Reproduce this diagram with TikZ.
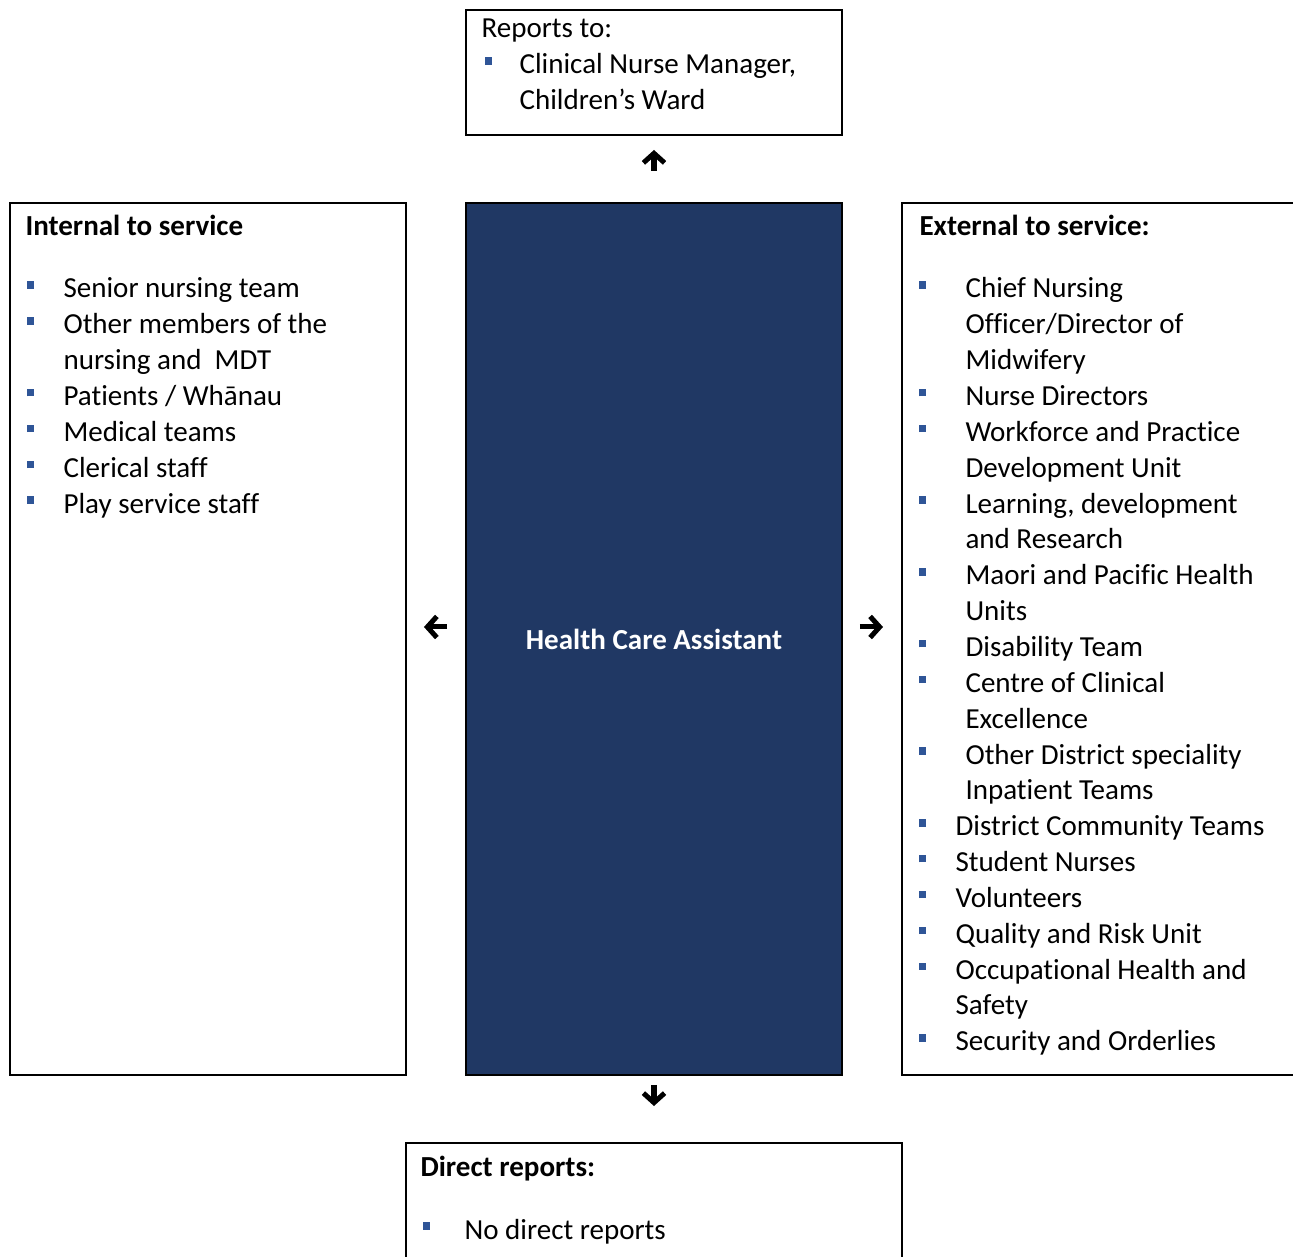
\documentclass[tikz,border=0pt]{standalone}
\usepackage{fontspec}
\setmainfont[Ligatures=NoCommon]{Carlito}
\usetikzlibrary{arrows.meta}

\definecolor{hcablue}{RGB}{32,56,100}
\definecolor{bulletblue}{RGB}{47,85,151}
\newlength{\pxl}
\setlength{\pxl}{0.3788pt}
\newcommand{\sq}{\textcolor{bulletblue}{\rule[3.5pt]{2.8pt}{2.8pt}}}
\newcommand{\bitem}[1]{\makebox[#1\pxl][l]{\sq}}
\newcommand{\bskip}[1]{\hspace*{#1\pxl}}

\begin{document}
\begin{tikzpicture}[
		x=0.3788pt, y=-0.3788pt,
		every node/.style={font=\fontsize{11}{13.58}\selectfont},
		box/.style={
			draw,
			line width=0.75pt,
			anchor=north west,
			inner sep=0pt
		},
		role/.style={
			box,
			fill=hcablue,
			text=white,
			font=\fontsize{11}{13.58}\selectfont\bfseries
		},
		txt/.style={anchor=base west, inner sep=0pt},
		head/.style={txt, font=\fontsize{11}{13.58}\selectfont\bfseries},
		warrow/.style={
			-{Straight Barb[length=3.6pt,width=8pt]},
			line width=1.9pt
		}
		]
		\useasboundingbox (0,0) rectangle (1293,1257);
		
		% Boxes
		\node[box, minimum width=376*\pxl, minimum height=125*\pxl] (reports) at (465,9) {};
		\node[role, minimum width=376*\pxl, minimum height=872*\pxl] (hca) at (465,202) {Health Care Assistant};
		\node[box, minimum width=396*\pxl, minimum height=872*\pxl] (internal) at (9,202) {};
		\node[box, minimum width=420*\pxl, minimum height=872*\pxl] (external) at (901,202) {};
		\node[box, minimum width=496*\pxl, minimum height=130*\pxl] (direct) at (405,1142) {};
		
		% Texts
		\node[txt] (reportsList) at (481,38) {\begin{tabular}[t]{@{}l@{}}
				Reports to:\\
				\bskip{3}\bitem{35}Clinical Nurse Manager,\\
				\bskip{38}Children’s Ward
			\end{tabular}};
		
		\node[head] (internalHead) at (25,236) {Internal to service};
		\node[txt] (internalList) at (26,298) {\begin{tabular}[t]{@{}l@{}}
				\bitem{37}Senior nursing team\\
				\bitem{37}Other members of the\\
				\bskip{37}nursing and\ \ MDT\\
				\bitem{37}Patients / Whānau\\
				\bitem{37}Medical teams\\
				\bitem{37}Clerical staff\\
				\bitem{37}Play service staff
			\end{tabular}};
		
		\node[head] (externalHead) at (919,236) {External to service:};
		\node[txt] (externalList) at (918,298) {\begin{tabular}[t]{@{}l@{}}
				\bitem{47}Chief Nursing\\
				\bskip{47}Officer/Director of\\
				\bskip{47}Midwifery\\
				\bitem{47}Nurse Directors\\
				\bitem{47}Workforce and Practice\\
				\bskip{47}Development Unit\\
				\bitem{47}Learning, development\\
				\bskip{47}and Research\\
				\bitem{47}Maori and Pacific Health\\
				\bskip{47}Units\\
				\bitem{47}Disability Team\\
				\bitem{47}Centre of Clinical\\
				\bskip{47}Excellence\\
				\bitem{47}Other District speciality\\
				\bskip{47}Inpatient Teams\\
				\bitem{37}District Community Teams\\
				\bitem{37}Student Nurses\\
				\bitem{37}Volunteers\\
				\bitem{37}Quality and Risk Unit\\
				\bitem{37}Occupational Health and\\
				\bskip{37}Safety\\
				\bitem{37}Security and Orderlies
			\end{tabular}};
		
		\node[head] (directHead) at (420,1176) {Direct reports:};
		\node[txt] (directList) at (422,1239) {\bitem{42}No direct reports};
		
		% Arrows
		\draw[warrow, shorten <=31*\pxl, shorten >=14*\pxl] (hca.north) -- (reports.south);
		\draw[warrow, shorten <=18*\pxl, shorten >=17*\pxl]
		([yshift=12*\pxl]hca.west) -- ([yshift=12*\pxl]internal.east |- hca.west);
		\draw[warrow, shorten <=17*\pxl, shorten >=18*\pxl]
		([yshift=12*\pxl]hca.east) -- ([yshift=12*\pxl]external.west);
		\draw[warrow, shorten <=9*\pxl, shorten >=36*\pxl] (hca.south) -- (direct.north);
		
	\end{tikzpicture}
\end{document}
